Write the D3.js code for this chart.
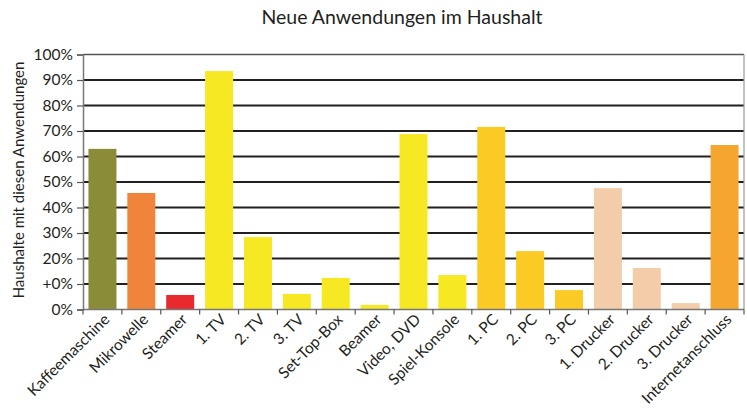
<!DOCTYPE html>
<html><head><meta charset="utf-8">
<script src="https://cdn.jsdelivr.net/npm/d3@7"></script>
<style>body{margin:0;background:#fff;} text{font-family:Lato, "Noto Sans", sans-serif;fill:#231f20;}</style>
</head><body>
<svg id="c" width="747" height="409"></svg>
<script>
const categories = ["Kaffeemaschine","Mikrowelle","Steamer","1. TV","2. TV","3. TV","Set-Top-Box","Beamer","Video, DVD","Spiel-Konsole","1. PC","2. PC","3. PC","1. Drucker","2. Drucker","3. Drucker","Internetanschluss"];
const values = [63, 45.7, 5.7, 93.5, 28.4, 6.1, 12.4, 1.8, 68.8, 13.5, 71.6, 22.9, 7.6, 47.6, 16.3, 2.5, 64.5];
const colors = ["#8b8c38","#f0843a","#e8292e","#f7e824","#f7e824","#f7e824","#f7e824","#f7e824","#f7e824","#f7e824","#fcca24","#fcca24","#fcca24","#f3cda9","#f3cda9","#f3cda9","#f4a630"];
const tickValues = [0,10,20,30,40,50,60,70,80,90,100];
const tickLabels = ["0%","+0%","20%","30%","40%","50%","60%","70%","80%","90%","100%"];
const title = "Neue Anwendungen im Haushalt";
const yTitle = "Haushalte mit diesen Anwendungen";

const svg = d3.select("#c");
const m = {l:83, r:744, t:54.5, b:309.5};
const x = d3.scaleBand().domain(categories).range([m.l, m.r]).paddingInner(0.28).paddingOuter(0.14);
const y = d3.scaleLinear().domain([0,100]).range([m.b, m.t]);

// gridlines
svg.append("g").selectAll("line").data(tickValues.filter(v=>v>0 && v<100)).join("line")
  .attr("x1", m.l).attr("x2", m.r).attr("y1", d=>y(d)).attr("y2", d=>y(d))
  .attr("stroke", "#231f20").attr("stroke-width", 2);
// top border
svg.append("line").attr("x1", m.l).attr("x2", m.r).attr("y1", y(100)).attr("y2", y(100))
  .attr("stroke", "#555").attr("stroke-width", 1.5);
// right border
svg.append("line").attr("x1", m.r).attr("x2", m.r).attr("y1", m.t).attr("y2", m.b)
  .attr("stroke", "#999").attr("stroke-width", 1.2);

// bars
svg.append("g").selectAll("rect").data(categories).join("rect")
  .attr("x", d=>x(d)).attr("width", x.bandwidth())
  .attr("y", (d,i)=>y(values[i])).attr("height", (d,i)=>y(0)-y(values[i]))
  .attr("fill", (d,i)=>colors[i]);

// y axis
const ya = svg.append("g").attr("transform", `translate(${m.l},0)`)
  .call(d3.axisLeft(y).tickValues(tickValues).tickSize(6).tickPadding(4).tickFormat((d,i)=>tickLabels[i]));
ya.select(".domain").attr("stroke", "#777").attr("stroke-width", 1.5);
ya.selectAll(".tick line").attr("stroke", "#555").attr("stroke-width", 1.2);
ya.selectAll(".tick text").attr("font-size", 15.5).attr("font-family", "Lato, sans-serif").attr("fill", "#231f20");

// x axis
const step = x.step();
const bounds = d3.range(categories.length + 1).map(i => m.l + i*step);
const xa = svg.append("g");
xa.append("line").attr("x1", m.l).attr("x2", m.r).attr("y1", m.b).attr("y2", m.b).attr("stroke", "#777").attr("stroke-width", 1.5);
xa.selectAll("line.t").data(bounds).join("line").attr("class","t")
  .attr("x1", d=>d).attr("x2", d=>d).attr("y1", m.b).attr("y2", m.b+5)
  .attr("stroke", "#555").attr("stroke-width", 1.2);
xa.selectAll("text").data(categories).join("text")
  .attr("transform", d=>`translate(${x(d)+x.bandwidth()/2+8},${m.b+11}) rotate(-45)`)
  .attr("text-anchor", "end").attr("font-size", 15.5).text(d=>d);

// title
svg.append("text").attr("x", 402).attr("y", 24).attr("text-anchor", "middle").attr("font-size", 19.5).text(title);
// y title
svg.append("text").attr("transform", `translate(24,${(m.t+m.b)/2 - 2}) rotate(-90)`)
  .attr("text-anchor", "middle").attr("font-size", 15).text(yTitle);
</script>
</body></html>
